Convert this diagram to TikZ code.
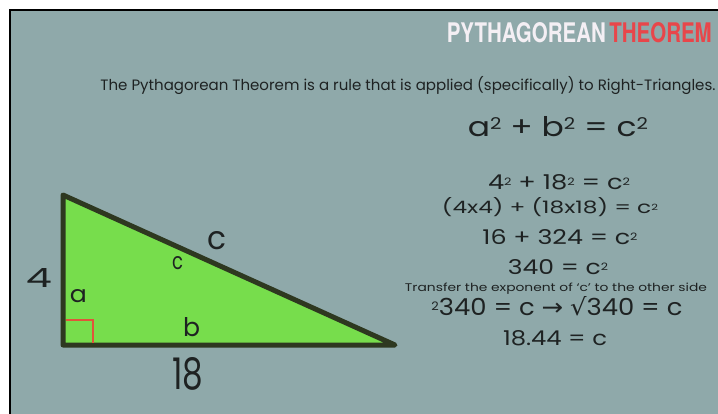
\documentclass[tikz,border=0pt]{standalone}
\usepackage{fontspec}
\setmainfont{Poppins}
\newfontfamily\titlefont{TeX Gyre Heros}
\newfontfamily\symfont{DejaVu Sans}
\usepackage{graphicx}
\usetikzlibrary{positioning}

\definecolor{board}{HTML}{8FA9AA}
\definecolor{leaf}{HTML}{77DD4C}
\definecolor{rim}{HTML}{2E3820}
\definecolor{ink}{HTML}{1E2222}
\definecolor{titlered}{HTML}{E8464A}
\definecolor{titlewhite}{HTML}{F4EFF4}
\definecolor{corner}{HTML}{E0553A}

% small squared sign, as the board writes it
\newcommand{\sq}{\raisebox{0.22em}{\scalebox{0.5}{2}}}
\newcommand{\bigsq}{\raisebox{0.28em}{\scalebox{0.6}{2}}}
\newcommand{\fitw}[2]{\resizebox{#1pt}{!}{#2}}
\newcommand{\fit}[3]{\resizebox{#1pt}{#2pt}{#3}}

\begin{document}
\begin{tikzpicture}[x=1pt,y=-1pt,
  eqn/.style={inner sep=0pt,text=ink},
  side/.style={inner sep=0pt,text=ink}]
\useasboundingbox (0,0) rectangle (718,414);
\fill[white] (0,0) rectangle (718,414);
\fill[board] (10,10) rectangle (718,414);
\draw[black,line width=2pt] (10,414) -- (10,10) -- (718,10);

% heading
\node[inner sep=0pt,anchor=east] (title) at (712,33)
  {\resizebox{265pt}{20pt}{\titlefont\bfseries\textcolor{titlewhite}{PYTHAGOREAN}\,\textcolor{titlered}{THEOREM}}};
\node[eqn] (rule) at (408,86) {\fitw{615}{The Pythagorean Theorem is a rule that is applied (specifically) to Right-Triangles.}};

% triangle
\coordinate (top) at (63,195);
\coordinate (foot) at (63,345);
\coordinate (tip) at (395,345);
\filldraw[fill=leaf,draw=rim,line width=5pt,line join=round] (top) -- (foot) -- (tip) -- cycle;
\draw[corner,line width=1.2pt] (65.5,320) -- (93,320) -- (93,342.5);
\node[side] (four) at (39,277.5) {\fit{26}{19}{4}};
\node[side] (eighteen) at (187.5,374) {\fit{31}{32}{18}};
\node[side] (hyp) at (217.5,241) {\fit{19}{18}{c}};
\node[side] (hypin) at (177.5,263.5) {\fit{11}{13}{c}};
\node[side] (aleg) at (78.5,296.5) {\fit{17}{13}{a}};
\node[side] (bleg) at (191.5,327.5) {\fit{17}{19}{b}};

% working
\node[eqn,anchor=base] (law) at (558,137) {\fit{180}{20}{a\bigsq\ + b\bigsq\ = c\bigsq}};
\node[eqn,anchor=base] (step1) at (559,190) {\fit{142}{15}{4\sq\ + 18\sq\ = c\sq}};
\node[eqn,anchor=base] (step2) at (550,214) {\fit{216}{16}{(4x4) + (18x18) = c\sq}};
\node[eqn,anchor=base] (step3) at (560,245) {\fit{155}{15}{16 + 324 = c\sq}};
\node[eqn,anchor=base] (step4) at (558,275) {\fit{100}{15}{340 = c\sq}};
\node[eqn,anchor=base] (note) at (556,291) {\fit{302}{8.5}{Transfer the exponent of ‘c’ to the other side}};
\node[eqn,anchor=base] (step5) at (557,316) {\fit{251}{19}{\sq340 = c {\symfont →} {\symfont √}340 = c}};
\node[eqn,anchor=base] (result) at (555,345) {\fit{104}{15}{18.44 = c}};
\end{tikzpicture}
\end{document}
